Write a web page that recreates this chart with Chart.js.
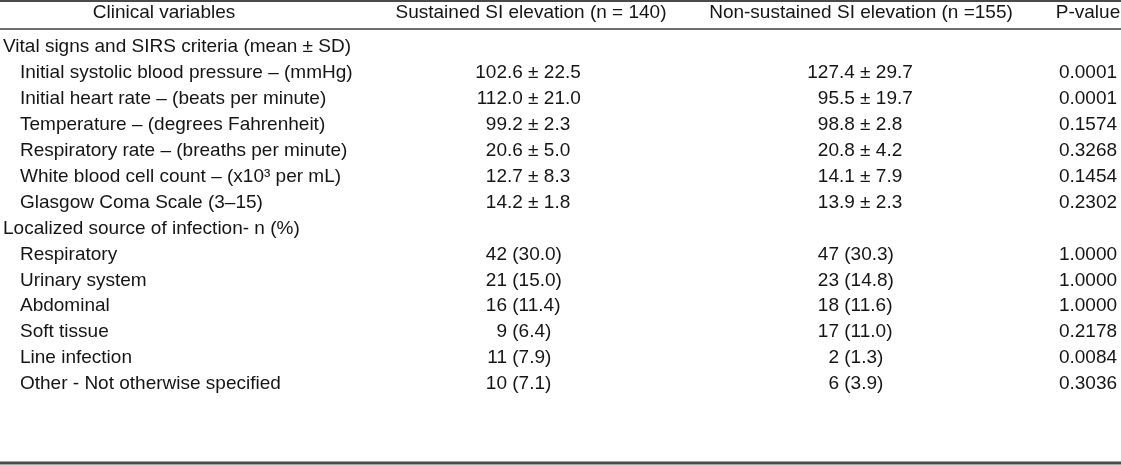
<!DOCTYPE html>
<html>
<head>
<meta charset="utf-8">
<script src="https://cdn.jsdelivr.net/npm/chart.js@4.4.0/dist/chart.umd.min.js"></script>
<style>
  html, body { margin: 0; padding: 0; background: #fff; }
  #wrap { width: 1121px; height: 465px; position: relative; }
</style>
</head>
<body>
<div id="wrap"><canvas id="tableChart"></canvas></div>
<script>
"use strict";

// column headings
var headers = ['Clinical variables', 'Sustained SI elevation (n = 140)', 'Non-sustained SI elevation (n =155)', 'P-value'];

// row labels (group rows have no values)
var variables = [
    'Vital signs and SIRS criteria (mean ± SD)',
    'Initial systolic blood pressure – (mmHg)',
    'Initial heart rate – (beats per minute)',
    'Temperature – (degrees Fahrenheit)',
    'Respiratory rate – (breaths per minute)',
    'White blood cell count – (x10³ per mL)',
    'Glasgow Coma Scale (3–15)',
    'Localized source of infection- n (%)',
    'Respiratory',
    'Urinary system',
    'Abdominal',
    'Soft tissue',
    'Line infection',
    'Other - Not otherwise specified'
];
var groupRows = [0, 7];

var sustained = ['', '102.6 ± 22.5', '112.0 ± 21.0', '99.2 ± 2.3', '20.6 ± 5.0', '12.7 ± 8.3', '14.2 ± 1.8',
    '', '42 (30.0)', '21 (15.0)', '16 (11.4)', '9 (6.4)', '11 (7.9)', '10 (7.1)'];
var nonSustained = ['', '127.4 ± 29.7', '95.5 ± 19.7', '98.8 ± 2.8', '20.8 ± 4.2', '14.1 ± 7.9', '13.9 ± 2.3',
    '', '47 (30.3)', '23 (14.8)', '18 (11.6)', '17 (11.0)', '2 (1.3)', '6 (3.9)'];
var pValues = ['', '0.0001', '0.0001', '0.1574', '0.3268', '0.1454', '0.2302',
    '', '1.0000', '1.0000', '1.0000', '0.2178', '0.0084', '0.3036'];

/* layout */
var W = 1121, H = 465;
var ROW0 = 47, ROW_H = 25.92;          // pixel centre of first row, row pitch
var HEADER_Y = 12.5;
var FONT = '19px "Liberation Sans", Arial, sans-serif';
var TEXT = '#151515';
// x anchors: label indent, group label, col2 integer end, col3 integer end, p-value centre
var X_LABEL = 20, X_GROUP = 3, X_SUS = 507, X_NON = 839, X_P = 1088;
var X_HEAD = [164, 531, 861, 1088];

var yMin = -ROW0 / ROW_H;
var yMax = yMin + H / ROW_H;

function points(arr, x) {
    var out = [];
    arr.forEach(function(v, i) {
        if (v !== '') out.push({x: x, y: i, label: v});
    });
    return out;
}

var labelPts = variables.map(function(v, i) {
    return {x: groupRows.indexOf(i) >= 0 ? X_GROUP : X_LABEL, y: i, label: v};
});

/* draw the cell texts and rules */
var tablePlugin = {
    id: 'tableText',
    afterDatasetsDraw: function(chart) {
        var ctx = chart.ctx;
        var xs = chart.scales.x, ys = chart.scales.y;
        var rowY = function(px) { return ys.getPixelForValue((px - ROW0) / ROW_H); };
        ctx.save();

        // rules
        ctx.fillStyle = '#4a4a4a';
        ctx.fillRect(0, rowY(0), W, 2);
        ctx.fillStyle = '#6e6e6e';
        ctx.fillRect(0, rowY(28), W, 2);
        ctx.fillStyle = '#4a4a4a';
        ctx.fillRect(0, rowY(461.5), W, 3);

        ctx.font = FONT;
        ctx.fillStyle = TEXT;
        ctx.textBaseline = 'middle';

        // header
        ctx.textAlign = 'center';
        headers.forEach(function(h, c) {
            ctx.fillText(h, xs.getPixelForValue(X_HEAD[c]), rowY(HEADER_Y));
        });

        chart.data.datasets.forEach(function(ds, di) {
            var meta = chart.getDatasetMeta(di);
            meta.data.forEach(function(el, i) {
                var txt = ds.data[i].label;
                if (ds.align === 'int') {
                    // integer part of the first number ends at the anchor
                    var intPart = txt.match(/^\d+/)[0];
                    ctx.textAlign = 'left';
                    ctx.fillText(txt, el.x - ctx.measureText(intPart).width, el.y);
                } else {
                    ctx.textAlign = ds.align;
                    ctx.fillText(txt, el.x, el.y);
                }
            });
        });
        ctx.restore();
    }
};

var tableChart = new Chart(document.getElementById('tableChart').getContext('2d'), {
    type: 'scatter',
    data: {
        datasets: [
            {label: headers[0], data: labelPts, align: 'left'},
            {label: headers[1], data: points(sustained, X_SUS), align: 'int'},
            {label: headers[2], data: points(nonSustained, X_NON), align: 'int'},
            {label: headers[3], data: points(pValues, X_P), align: 'center'}
        ]
    },
    options: {
        responsive: true,
        maintainAspectRatio: false,
        animation: false,
        layout: {padding: 0},
        elements: {point: {radius: 0, hoverRadius: 0}},
        plugins: {legend: {display: false}, tooltip: {enabled: false}},
        scales: {
            x: {type: 'linear', display: false, min: 0, max: W},
            y: {type: 'linear', display: false, reverse: true, min: yMin, max: yMax}
        }
    },
    plugins: [tablePlugin]
});
</script>
</body>
</html>
